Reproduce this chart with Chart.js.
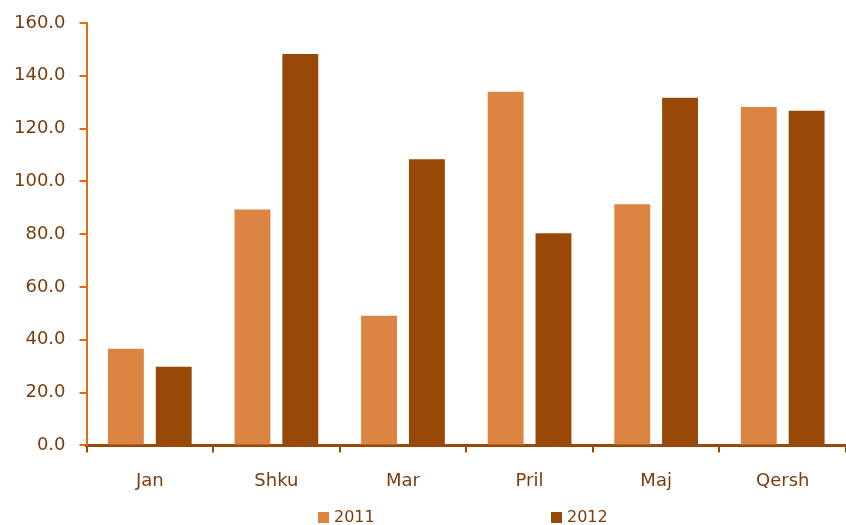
<!DOCTYPE html>
<html>
<head>
<meta charset="utf-8">
<script src="https://cdn.jsdelivr.net/npm/chart.js@4.4.0/dist/chart.umd.min.js"></script>
<style>
  html, body { margin: 0; padding: 0; background: #fff; }
  #wrap { width: 846px; height: 525px; }
</style>
</head>
<body>
<div id="wrap"><canvas id="c"></canvas></div>
<script>
// Данные
const months = ['Jan', 'Shku', 'Mar', 'Pril', 'Maj', 'Qersh'];
const values2011 = [36.6, 89.4, 49.1, 134.0, 91.3, 128.2];
const values2012 = [29.8, 148.3, 108.4, 80.4, 131.7, 126.8];
const yTicks = [0, 20, 40, 60, 80, 100, 120, 140, 160];

const textColor = '#7a3d0e';
const font = { family: 'DejaVu Sans', size: 18 };

// Легенда внизу с широким интервалом между элементами
const wideLegend = {
  id: 'wideLegend',
  afterDraw(chart) {
    const ctx = chart.ctx;
    const starts = [318, 551];
    const y = 518;
    ctx.save();
    ctx.font = '16px "DejaVu Sans"';
    ctx.textBaseline = 'middle';
    ctx.textAlign = 'left';
    chart.data.datasets.forEach((ds, i) => {
      const x = starts[i];
      ctx.fillStyle = ds.backgroundColor;
      ctx.fillRect(x, y - 6, 11, 11);
      ctx.fillStyle = textColor;
      ctx.fillText(ds.label, x + 16, y);
    });
    ctx.restore();
  }
};

new Chart(document.getElementById('c'), {
  type: 'bar',
  data: {
    labels: months,
    datasets: [
      { label: '2011', data: values2011, backgroundColor: '#dc8441' },
      { label: '2012', data: values2012, backgroundColor: '#984807' }
    ]
  },
  options: {
    responsive: true,
    maintainAspectRatio: false,
    animation: false,
    categoryPercentage: 0.756,
    barPercentage: 0.75,
    layout: { padding: { top: 20, right: 0, left: 0, bottom: 15 } },
    plugins: {
      tooltip: { enabled: false },
      legend: { display: false }
    },
    scales: {
      x: {
        grid: {
          offset: true,
          drawOnChartArea: false,
          tickLength: 7,
          color: '#984807',
          lineWidth: 2
        },
        border: { color: '#984807', width: 3 },
        ticks: { color: textColor, font: font, padding: 18 }
      },
      y: {
        min: 0,
        max: 160,
        afterBuildTicks: (axis) => { axis.ticks = yTicks.map(v => ({ value: v })); },
        grid: {
          drawOnChartArea: false,
          tickLength: 7,
          color: '#e46c0a',
          lineWidth: 2
        },
        border: { color: '#e46c0a', width: 2 },
        ticks: {
          color: textColor,
          font: { family: 'DejaVu Sans', size: 18, lineHeight: 1 },
          padding: 14,
          callback: (v) => Number(v).toFixed(1)
        }
      }
    }
  },
  plugins: [wideLegend]
});
</script>
</body>
</html>
